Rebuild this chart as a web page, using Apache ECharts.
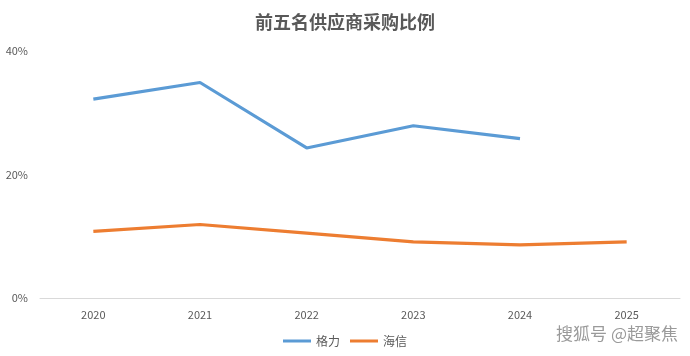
<!DOCTYPE html>
<html><head><meta charset="utf-8">
<script src="https://cdn.jsdelivr.net/npm/echarts@6/dist/echarts.min.js"></script>
<style>html,body{margin:0;padding:0;background:#fff}#c{width:690px;height:356px}</style>
</head><body><div id="c"></div>
<script>
const categories = ['2020','2021','2022','2023','2024','2025'];
const gree = [32.2, 34.9, 24.3, 27.9, 25.8, null];
const hisense = [10.8, 11.9, 10.5, 9.1, 8.6, 9.1];
const yTicks = [0, 20, 40];

const chart = echarts.init(document.getElementById('c'));
const font = '"Noto Sans CJK SC", "Noto Sans", sans-serif';
chart.setOption({
  backgroundColor: '#fff',
  animation: false,
  title: {
    text: '前五名供应商采购比例', left: 'center', top: 8,
    textStyle: {fontFamily: font, fontSize: 18, fontWeight: 'bold', color: '#595959'}
  },
  legend: {
    bottom: 4, left: 'center', itemWidth: 28, itemHeight: 3, itemGap: 10,
    icon: 'rect',
    textStyle: {fontFamily: font, fontSize: 12, color: '#595959'},
    data: ['格力', '海信']
  },
  grid: {left: 40, right: 10, top: 51, bottom: 58},
  xAxis: {
    type: 'category', data: categories, boundaryGap: true,
    axisLine: {lineStyle: {color: '#d9d9d9'}},
    axisTick: {show: false},
    axisLabel: {fontFamily: font, fontSize: 11, color: '#595959', margin: 11}
  },
  yAxis: {
    type: 'value', min: 0, max: 40, interval: 20,
    axisLine: {show: false}, axisTick: {show: false},
    splitLine: {show: false},
    axisLabel: {fontFamily: font, fontSize: 11, color: '#595959', margin: 12,
      formatter: v => yTicks.includes(v) ? v + '%' : ''}
  },
  series: [
    {name: '格力', type: 'line', data: gree, symbol: 'none', connectNulls: false,
     lineStyle: {width: 3.2, color: '#5B9BD5'}, itemStyle: {color: '#5B9BD5'}},
    {name: '海信', type: 'line', data: hisense, symbol: 'none',
     lineStyle: {width: 3.2, color: '#ED7D31'}, itemStyle: {color: '#ED7D31'}}
  ],
  graphic: [{
    type: 'text', right: 12, bottom: 14,
    style: {text: '搜狐号 @超聚焦', fontFamily: font, fontSize: 17, fill: '#9a9a9a'}
  }]
});
</script></body></html>
